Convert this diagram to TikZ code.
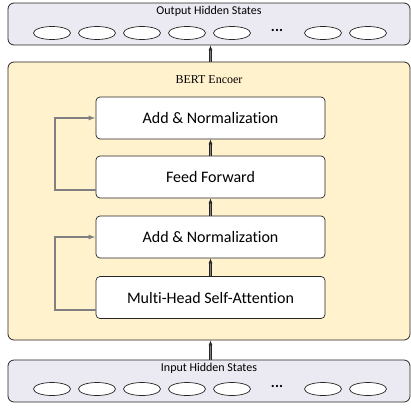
\documentclass[tikz,border=0pt]{standalone}
\usepackage{fontspec}
\setmainfont{Liberation Serif}
\newfontfamily\calibri[Ligatures=NoCommon]{Carlito}
\usetikzlibrary{arrows.meta,positioning,shapes.geometric,calc}
\definecolor{statefill}{HTML}{EBEAF2}
\definecolor{encfill}{HTML}{FFF2CC}
\tikzset{
	outerbox/.style={draw=black!85, line width=0.8pt, rounded corners=6pt, fill=statefill,
			minimum width=402pt, minimum height=42pt, inner sep=0pt},
	layerbox/.style={draw=black!85, line width=0.7pt, rounded corners=4pt, fill=white,
			minimum width=229pt, minimum height=42pt, inner sep=0pt, font=\calibri\fontsize{16}{18}\selectfont},
	statelbl/.style={font=\calibri\fontsize{12}{14}\selectfont},
	token/.style={ellipse, draw=black!85, line width=0.7pt, fill=white,
			minimum width=37pt, minimum height=13pt, inner sep=0pt},
	dots/.style={font=\calibri\bfseries\fontsize{15}{17}\selectfont},
	dblarrow/.style={draw=black!85, double=gray, double distance=1.3pt, line width=0.6pt,
			-{Latex[length=5pt,width=4pt]}},
	skiparrow/.style={draw=gray, line width=2pt, -{Latex[length=7pt,width=5pt]}}
}

\begin{document}
\begin{tikzpicture}[x=1pt,y=-1pt]
	\useasboundingbox (0,0) rectangle (411,407);
	%--- Hidden state boxes ---
	\node[outerbox] (out) at (209,24) {};
	\node[outerbox] (in) at (209,381) {};
	\node[statelbl] (outlbl) at (209,11) {Output Hidden States};
	\node[statelbl] (inlbl) at (209,368) {Input Hidden States};
	% Tokens
	\foreach \i/\x in {1/52,2/97,3/142,4/187,5/232,7/323,8/368}{
		\node[token] (o\i) at (\x,33) {};
		\node[token] (i\i) at (\x,389) {};
	}
	\node[dots] (odots) at (277,30) {...};
	\node[dots] (idots) at (277,386) {...};

	%--- Encoder ---
	\node[draw=black!85, line width=0.8pt, rounded corners=6pt, fill=encfill,
		minimum width=402pt, minimum height=278pt, inner sep=0pt] (enc) at (209,201) {};
	\node[font=\fontsize{12}{14}\selectfont] (enclbl) at (209,80) {BERT Encoer};
	\node[layerbox] (norm2) at (210.5,118) {Add \& Normalization};
	\node[layerbox] (ffn) at (210.5,177) {Feed Forward};
	\node[layerbox] (norm1) at (210.5,237) {Add \& Normalization};
	\node[layerbox] (mhsa) at (210.5,297.5) {Multi-Head Self-Attention};

	%--- Connections ---
	\draw[dblarrow] (in.north -| ffn) -- (enc.south -| ffn);
	\draw[dblarrow] (mhsa) -- (norm1);
	\draw[dblarrow] (norm1) -- (ffn);
	\draw[dblarrow] (ffn) -- (norm2);
	\draw[dblarrow] (enc.north -| ffn) -- (out.south -| ffn);
	% Residual paths
	\coordinate (r1) at ($(mhsa.west)+(0,12)$);
	\coordinate (r2) at ($(ffn.west)+(0,13)$);
	\draw[skiparrow] (r1) -| (55,237) -- (norm1.west);
	\draw[skiparrow] (r2) -| (55,118) -- (norm2.west);
\end{tikzpicture}
\end{document}
